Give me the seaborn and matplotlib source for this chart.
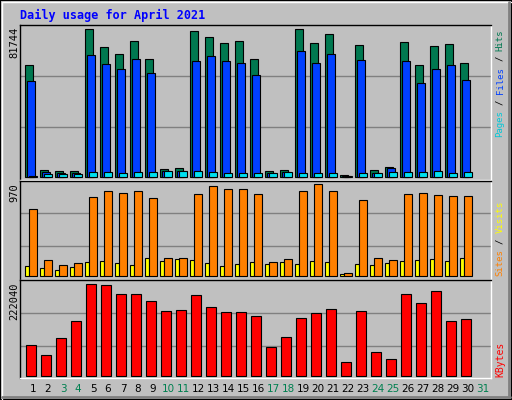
import numpy as np
import pandas as pd
import matplotlib
matplotlib.use("Agg")
import matplotlib.pyplot as plt
from matplotlib.patches import Rectangle
from matplotlib.lines import Line2D
import seaborn as sns

sns.set_style("white")
plt.rcParams['font.family'] = ['DejaVu Sans']

days = list(range(1, 31))
day_labels = [str(d) for d in range(1, 32)]
weekend = [3, 4, 10, 11, 17, 18, 24, 25, 31]
hits = [61770, 3500, 2960, 2960, 81744, 71750, 67870, 75080, 65100, 4070, 4620, 80630, 77300, 73970, 75080,
        65100, 2960, 3510, 81744, 73970, 78970, 925, 72860, 3510, 5180, 74530, 61770, 72310, 73420, 62880]
files = [52890, 2770, 1850, 1850, 67310, 62320, 59550, 65100, 57330, 3330, 2960, 63990, 66760, 63990, 62880,
         56220, 2220, 2770, 69540, 62880, 67870, 550, 64540, 2220, 4620, 63990, 51780, 59550, 61770, 53450]
pages = [600, 1300, 1300, 1700, 2400, 2400, 1900, 2400, 2400, 2960, 2960, 2960, 2400, 1900, 1900,
         1900, 1900, 2400, 1900, 1900, 1900, 300, 1900, 1900, 2400, 2400, 2400, 2960, 1900, 2400]
sites = [705, 166, 113, 134, 832, 896, 875, 896, 822, 187, 187, 864, 949, 917, 917,
         864, 145, 176, 896, 970, 896, 28, 801, 187, 166, 864, 875, 854, 843, 843]
visits = [102, 81, 60, 92, 145, 155, 134, 113, 187, 155, 176, 166, 134, 102, 123,
          145, 123, 145, 123, 155, 145, 18, 123, 113, 134, 155, 166, 176, 155, 187]
kbytes = [73740, 49430, 90760, 132090, 222040, 219610, 197730, 197730, 180710, 156400, 158830, 195300, 166120,
          153970, 153970, 144250, 68880, 93190, 139380, 151540, 161260, 32410, 156400, 56730, 39710, 197730,
          175850, 205020, 132090, 136950]

BG = "#C0C0C0"
W, H = 512, 400
fig = plt.figure(figsize=(5.12, 4.0), dpi=100, facecolor=BG)

def fx(x): return x / W
def fy(y): return 1 - y / H

# outer bevel
fig.patches.append(Rectangle((0, 0), 1, 1, transform=fig.transFigure, fill=False, edgecolor="black", lw=1.5))
fig.lines.append(Line2D([fx(1.5), fx(510.5)], [fy(1.5), fy(1.5)], transform=fig.transFigure, color="white", lw=1))
fig.lines.append(Line2D([fx(1.5), fx(1.5)], [fy(1.5), fy(398.5)], transform=fig.transFigure, color="white", lw=1))
fig.lines.append(Line2D([fx(2), fx(510)], [fy(396.5), fy(396.5)], transform=fig.transFigure, color="#808080", lw=2))
fig.lines.append(Line2D([fx(508.5), fx(508.5)], [fy(2), fy(397)], transform=fig.transFigure, color="#808080", lw=2))

X0, X1 = 20, 491
XL = (0.5, 0.5 + (X1 - X0) / 15)

def make_ax(ytop, ybot, base_px, unit_per_px, grids_px):
    ax = fig.add_axes([fx(X0), fy(ybot), (X1 - X0) / W, (ybot - ytop) / H])
    ax.set_facecolor(BG)
    ax.set_xlim(*XL)
    ax.set_ylim(-(ybot - base_px) * unit_per_px, (base_px - ytop) * unit_per_px)
    for g in grids_px:
        ax.axhline(g * unit_per_px, color="#808080", lw=1, zorder=0)
    for s in ["top", "left"]:
        ax.spines[s].set_color("black")
    for s in ["bottom", "right"]:
        ax.spines[s].set_color("white")
    for s in ax.spines.values():
        s.set_linewidth(1)
    ax.set_xticks([]); ax.set_yticks([])
    ax.set_xlabel(""); ax.set_ylabel("")
    return ax

def bars(ax, offset, vals, width, color):
    df = pd.DataFrame({"x": np.array(days) + offset, "y": vals})
    sns.barplot(data=df, x="x", y="y", ax=ax, native_scale=True, orient="x", width=width,
                color=color, edgecolor="black", linewidth=0.8, saturation=1, zorder=2)
    ax.set_xlim(*XL)
    ax.set_xlabel(""); ax.set_ylabel("")
    ax.set_xticks([]); ax.set_yticks([])

# top panel
ax1 = make_ax(25, 180, 176.7, 81744 / 147.4, [49.4, 100.7])
bars(ax1, 0.10, hits, 0.49, "#007850")
bars(ax1, 0.233, files, 0.49, "#0040FF")
bars(ax1, 0.355, pages, 0.51, "#00E0F0")

# middle panel
ax2 = make_ax(180.7, 280, 276, 970 / 91.7, [29.7, 62.7])
bars(ax2, -0.013, visits, 0.27, "#FFFF00")
bars(ax2, 0.367, sites, 0.49, "#FF8000")

# bottom panel
ax3 = make_ax(280, 378, 375.7, 222040 / 91.3, [29.3, 62.3])
bars(ax3, 0.256, kbytes, 0.667, "#FF0000")

# title
fig.text(fx(20), fy(15), "Daily usage for April 2021", color="#0000FF", family="DejaVu Sans Mono",
         weight="bold", fontsize=8.5, ha="left", va="center")

# left max labels
for txt, ytop in [("81744", 27), ("970", 183), ("222040", 282)]:
    fig.text(fx(14), fy(ytop), txt, rotation=90, ha="center", va="top", fontsize=7.5,
             family="DejaVu Sans Mono", color="black")

# right labels
def right_label(pieces, ybottom, cw=5.4, fs=6.5):
    y = ybottom
    for txt, col in pieces:
        n = len(txt.strip())
        if txt.strip() == "/":
            fig.text(fx(500), fy(y - 1.5 * cw), "/", rotation=90, ha="center", va="center", fontsize=fs,
                     family="DejaVu Sans Mono", color=col)
            y -= 3 * cw
        else:
            fig.text(fx(500), fy(y), txt, rotation=90, ha="center", va="bottom", fontsize=fs,
                     family="DejaVu Sans Mono", color=col)
            y -= n * cw

right_label([("Pages", "#00C8D8"), (" / ", "black"), ("Files", "#0040FF"), (" / ", "black"),
             ("Hits", "#007850")], 137)
right_label([("Sites", "#FF8000"), (" / ", "black"), ("Visits", "#FFFF00")], 276)
right_label([("KBytes", "#FF0000")], 377, cw=6, fs=7)

# x day labels
for i, lab in enumerate(day_labels):
    xd = i + 1 + 0.367
    xp = X0 + (xd - XL[0]) * 15
    col = "#008050" if int(lab) in weekend else "black"
    fig.text(fx(xp), fy(389), lab, ha="center", va="center", fontsize=7.5, color=col)

fig.savefig("out.png", dpi=100, facecolor=BG)
